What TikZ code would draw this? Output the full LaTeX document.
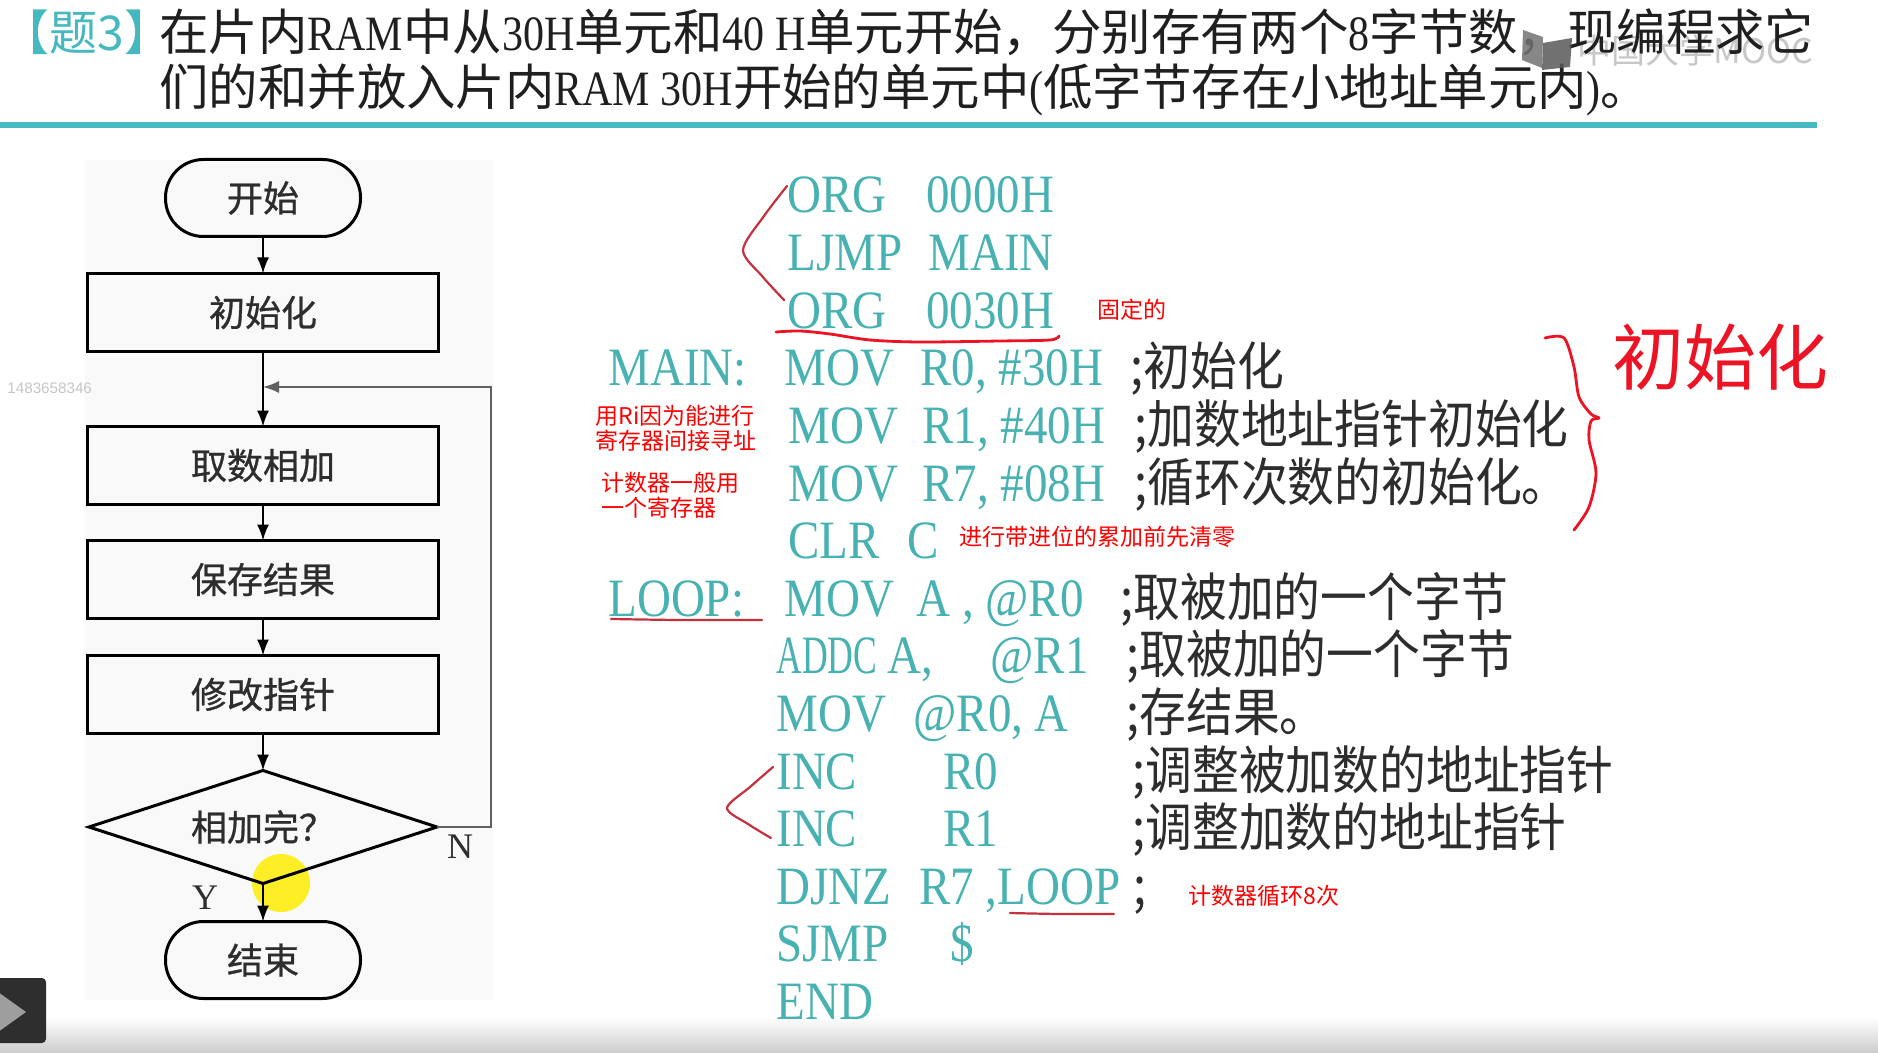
\documentclass[tikz,border=0pt]{standalone}
\usepackage{fontspec}
\usepackage{tikz}
\usetikzlibrary{positioning, shapes.geometric, arrows.meta}

\setmainfont{Liberation Serif}
\newfontfamily\cjkfont{Noto Sans CJK SC}
\newfontfamily\fcfont[FakeBold=0.8]{Noto Sans CJK SC}
\newfontfamily\cmtfont[FakeStretch=0.9]{Noto Sans CJK SC}
\newfontfamily\codefont[FakeStretch=0.87]{Liberation Serif}
\newfontfamily\codenarrow[FakeStretch=0.66]{Liberation Serif}
\newfontfamily\latfont[FakeStretch=0.85]{Liberation Serif}
\newfontfamily\numfont{Liberation Sans}

\definecolor{codeteal}{RGB}{72,178,178}
\definecolor{hdteal}{RGB}{70,185,192}
\definecolor{inkgray}{RGB}{45,45,45}
\definecolor{penred}{RGB}{236,20,36}
\definecolor{darkpen}{RGB}{196,48,60}
\definecolor{notered}{RGB}{255,0,0}
\definecolor{panelgray}{RGB}{249,249,249}

\begin{document}
\begin{tikzpicture}[
    x=0.5pt, y=-0.5pt,
    >={Latex[length=8pt,width=6pt]},
    termbox/.style={draw, line width=1.5pt, outer sep=0pt, rounded corners=19pt, minimum width=97.5pt, minimum height=38.5pt, inner sep=0pt, text=inkgray, font=\fcfont\fontsize{18}{20}\selectfont},
    procbox/.style={draw, line width=1.5pt, outer sep=0pt, rectangle, minimum width=175.5pt, minimum height=39pt, inner sep=0pt, text=inkgray, font=\fcfont\fontsize{18}{20}\selectfont},
    decbox/.style={draw, line width=1.5pt, outer sep=0pt, diamond, aspect=3, minimum width=174pt, minimum height=56.5pt, inner sep=0pt, text=inkgray, font=\fcfont\fontsize{18}{20}\selectfont},
    flow/.style={draw, line width=0.9pt, ->},
    backline/.style={draw=black!62, line width=0.8pt, ->},
    yn/.style={inner sep=0pt, text=inkgray, font=\rmfamily\fontsize{18}{20}\selectfont},
    hdtext/.style={anchor=west, inner sep=0pt, text=black!88, font=\cjkfont\fontsize{24.7}{28}\selectfont},
    code/.style={anchor=base west, inner sep=0pt, text=codeteal, font=\codefont\fontsize{27}{30}\selectfont},
    cmt/.style={anchor=base west, inner sep=0pt, text=inkgray, font=\cmtfont\fontsize{26}{30}\selectfont},
    note/.style={anchor=west, inner sep=0pt, text=notered, align=left, font=\cjkfont\fontsize{11.5}{12.5}\selectfont},
    redpen/.style={draw=penred, line width=1.4pt, line cap=round, line join=round},
    darkpenline/.style={draw=darkpen, line width=1.1pt, line cap=round, line join=round}
]
\useasboundingbox (0,0) rectangle (1878,1053);
\fill[white] (0,0) rectangle (1878,1053);
\shade[top color=white, bottom color=black!20] (0,1017) rectangle (1878,1053);

% title
\node[anchor=west, inner sep=0pt, text=hdteal, font=\cjkfont\fontsize{24}{28}\selectfont] (tag) at (1,32) {【题3】};
\node[anchor=west, inner sep=0pt, text=black!40, opacity=0.55, font=\cjkfont\fontsize{17}{20}\selectfont] (mooc) at (1577,50) {中国大学MOOC};
\node[hdtext] (title) at (159,32) {在片内{\latfont RAM}中从{\latfont 30H}单元和{\latfont 40 H}单元开始，分别存有两个{\latfont 8}字节数，现编程求它};
\node[hdtext] (title2) at (159,90) {们的和并放入片内{\latfont RAM 30H}开始的单元中{\latfont (}低字节存在小地址单元内{\latfont )}。};
\fill[black!55, opacity=0.85] (1523,30) -- (1543,37) -- (1542,68) -- (1522,60) -- cycle;
\fill[black!65, opacity=0.85] (1543,43) -- (1572,38) -- (1570,67) -- (1542,70) -- cycle;
\draw[hdteal, line width=3pt] (0,125) -- (1817,125);

% flow chart
\fill[panelgray] (85,160) rectangle (493,1000);
\node[anchor=west, inner sep=0pt, text=black!22, font=\numfont\fontsize{7.6}{9}\selectfont] (vid) at (7,388) {1483658346};
\fill[yellow!95!orange, opacity=0.85] (281,883) circle[radius=14.5pt];

\node[termbox] (start) at (263,198) {开始};
\node[procbox, below=18.5pt of start] (init) {初始化};
\node[procbox, below=37.5pt of init] (fetch) {取数相加};
\node[procbox, below=18pt of fetch] (store) {保存结果};
\node[procbox, below=18.5pt of store] (adjust) {修改指针};
\node[decbox, below=18.5pt of adjust] (done) {相加完？};
\node[termbox, below=19pt of done] (stop) {结束};

\coordinate (merge) at (263,387);
\coordinate (loopturn) at (491,387);

\draw[flow] (start) -- (init);
\draw[flow] (init) -- (fetch);
\draw[flow] (fetch) -- (store);
\draw[flow] (store) -- (adjust);
\draw[flow] (adjust) -- (done);
\draw[flow] (done) -- (stop);
\draw[backline] (done.east) -| (loopturn) -- (merge);
\node[yn] (nlbl) at (460,847) {N};
\node[yn] (ylbl) at (205,898) {Y};

% program listing
\node[code] (op0) at (787,213) {ORG};
\node[code] (arg0) at (926,213) {0000H};
\node[code] (op1) at (787,270.6) {LJMP};
\node[code] (arg1) at (928,270.6) {MAIN};
\node[code] (op2) at (787,328.2) {ORG};
\node[code] (arg2) at (926,328.2) {0030H};
\node[code] (lblmain) at (608,385.8) {MAIN:};
\node[code] (op3) at (784,385.8) {MOV};
\node[code] (arg3) at (920,385.8) {R0, \#30H};
\node[cmt] (cm3) at (1130,385.8) {;初始化};
\node[code] (op4) at (788,443.4) {MOV};
\node[code] (arg4) at (922,443.4) {R1, \#40H};
\node[cmt] (cm4) at (1134,443.4) {;加数地址指针初始化};
\node[code] (op5) at (788,501) {MOV};
\node[code] (arg5) at (922,501) {R7, \#08H};
\node[cmt] (cm5) at (1134,501) {;循环次数的初始化。};
\node[code] (op6) at (788,558.6) {CLR};
\node[code] (arg6) at (907,558.6) {C};
\node[code] (lblloop) at (608,616.2) {LOOP:};
\node[code] (op7) at (784,616.2) {MOV};
\node[code] (arg7) at (916,616.2) {A , @R0};
\node[cmt] (cm7) at (1120,616.2) {;取被加的一个字节};
\node[code, font=\codenarrow\fontsize{27}{30}\selectfont] (op8) at (776,673.8) {ADDC};
\node[code] (arg8) at (887,673.8) {A,};
\node[code] (arg8b) at (990,673.8) {@R1};
\node[cmt] (cm8) at (1126,673.8) {;取被加的一个字节};
\node[code] (op9) at (776,731.4) {MOV};
\node[code] (arg9) at (913,731.4) {@R0, A};
\node[cmt] (cm9) at (1126,731.4) {;存结果。};
\node[code] (op10) at (776,789) {INC};
\node[code] (arg10) at (943,789) {R0};
\node[cmt] (cm10) at (1132,789) {;调整被加数的地址指针};
\node[code] (op11) at (776,846.6) {INC};
\node[code] (arg11) at (943,846.6) {R1};
\node[cmt] (cm11) at (1132,846.6) {;调整加数的地址指针};
\node[code] (op12) at (776,904.2) {DJNZ};
\node[code] (arg12) at (919,904.2) {R7 ,LOOP};
\node[cmt] (cm12) at (1133,904.2) {;};
\node[code] (op13) at (776,961.8) {SJMP};
\node[code] (arg13) at (950,961.8) {\$};
\node[code] (op14) at (776,1019.4) {END};

% red notes
\node[note] (fixnote) at (1097,310) {固定的};
\node[note] (rinote) at (595,428.5) {用Ri因为能进行\\寄存器间接寻址};
\node[note] (cntnote) at (601,495.5) {计数器一般用\\一个寄存器};
\node[note] (clrnote) at (959,537) {进行带进位的累加前先清零};
\node[note] (loopnote) at (1188,896) {计数器循环8次};
\node[inner sep=0pt, text=penred, font=\cjkfont\fontsize{36}{40}\selectfont] (handnote) at (1720,357) {初始化};

% pen strokes
\draw[darkpenline] plot[smooth, tension=0.5] coordinates {(787,186) (764,216) (743,250) (762,276) (784,300)};
\draw[redpen] plot[smooth, tension=0.5] coordinates {(776,332) (800,331) (830,334) (870,340) (920,342) (1000,341) (1050,340) (1059,336)};
\draw[redpen] plot[smooth, tension=0.5] coordinates {(1545,338) (1564,338) (1574,367) (1579,397) (1591,414) (1599,418) (1591,421) (1589,440) (1596,473) (1589,507) (1574,530)};
\draw[darkpenline] plot[smooth, tension=0.5] coordinates {(611,619) (680,620) (762,620)};
\draw[darkpenline] plot[smooth, tension=0.5] coordinates {(773,767) (750,787) (727,808) (748,824) (771,838)};
\draw[darkpenline] plot[smooth, tension=0.5] coordinates {(1010,913) (1060,914) (1114,914)};

% player button
\fill[black!82, rounded corners=2pt] (-6,978) rectangle (46,1043);
\fill[black!38] (-2,992) -- (26,1012) -- (-2,1032) -- cycle;
\end{tikzpicture}
\end{document}
